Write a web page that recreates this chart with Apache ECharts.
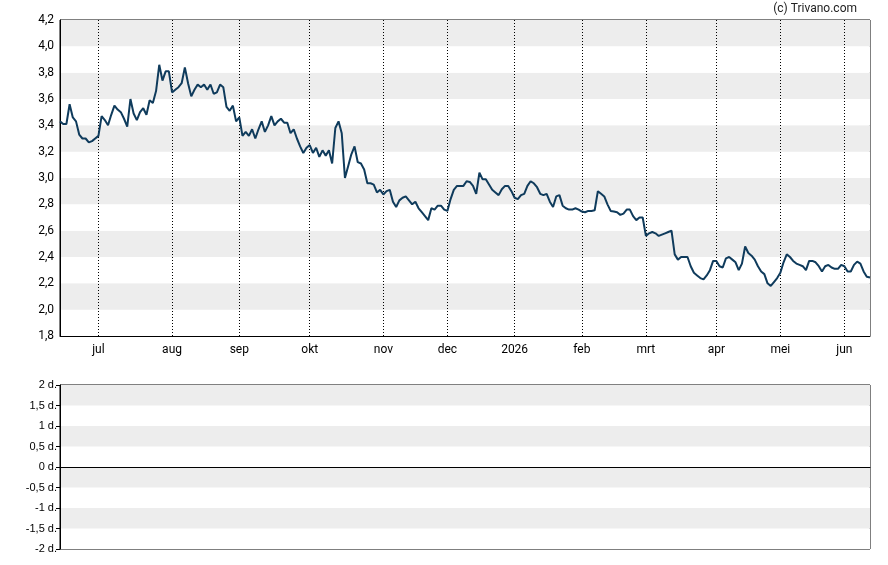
<!DOCTYPE html>
<html>
<head>
<meta charset="utf-8">
<script src="https://cdn.jsdelivr.net/npm/echarts@6/dist/echarts.min.js"></script>
<style>
  html, body { margin: 0; padding: 0; background: #fff; }
  #chart { width: 888px; height: 565px; }
</style>
</head>
<body>
<div id="chart"></div>
<script>
// trading days per month, first entry is the tail of june 2025
var monthNames = ['jun', 'jul', 'aug', 'sep', 'okt', 'nov', 'dec', '2026', 'feb', 'mrt', 'apr', 'mei', 'jun'];
var monthDays = [12, 23, 21, 22, 23, 20, 21, 21, 20, 22, 20, 20, 9];

var koers = [
  3.43, 3.41, 3.41, 3.56, 3.46, 3.43, 3.33, 3.30, 3.30, 3.27, 3.28, 3.30,
  3.32, 3.47, 3.44, 3.40, 3.48, 3.55, 3.52, 3.50, 3.45, 3.39, 3.60, 3.49, 3.44, 3.50, 3.53, 3.48, 3.59, 3.57, 3.66, 3.86, 3.74, 3.81, 3.81,
  3.65, 3.67, 3.69, 3.72, 3.84, 3.72, 3.62, 3.67, 3.71, 3.69, 3.71, 3.67, 3.71, 3.64, 3.65, 3.71, 3.69, 3.54, 3.51, 3.55, 3.43,
  3.46, 3.32, 3.35, 3.32, 3.37, 3.30, 3.37, 3.43, 3.35, 3.40, 3.47, 3.40, 3.43, 3.45, 3.42, 3.42, 3.34, 3.37, 3.30, 3.24, 3.19, 3.23,
  3.25, 3.19, 3.23, 3.16, 3.21, 3.17, 3.21, 3.11, 3.38, 3.43, 3.34, 3.00, 3.09, 3.18, 3.24, 3.12, 3.11, 3.065, 2.96, 2.96, 2.95, 2.89, 2.91,
  2.875, 2.90, 2.91, 2.82, 2.78, 2.83, 2.85, 2.86, 2.83, 2.80, 2.82, 2.77, 2.74, 2.71, 2.68, 2.77, 2.76, 2.79, 2.79, 2.76,
  2.75, 2.84, 2.91, 2.94, 2.94, 2.94, 2.975, 2.97, 2.94, 2.88, 3.04, 2.99, 2.99, 2.95, 2.91, 2.89, 2.87, 2.915, 2.94, 2.94, 2.90,
  2.85, 2.84, 2.87, 2.88, 2.94, 2.975, 2.96, 2.93, 2.88, 2.87, 2.88, 2.82, 2.78, 2.86, 2.87, 2.79, 2.77, 2.76, 2.76, 2.77, 2.76,
  2.745, 2.74, 2.75, 2.75, 2.755, 2.90, 2.88, 2.86, 2.80, 2.75, 2.745, 2.74, 2.72, 2.73, 2.76, 2.76, 2.71, 2.68, 2.70, 2.70,
  2.56, 2.58, 2.59, 2.58, 2.56, 2.57, 2.58, 2.59, 2.60, 2.42, 2.38, 2.40, 2.40, 2.40, 2.33, 2.28, 2.26, 2.24, 2.23, 2.26, 2.30, 2.37,
  2.37, 2.33, 2.32, 2.39, 2.40, 2.38, 2.36, 2.30, 2.35, 2.48, 2.43, 2.41, 2.38, 2.33, 2.29, 2.27, 2.20, 2.18, 2.21, 2.24,
  2.28, 2.36, 2.42, 2.40, 2.37, 2.35, 2.34, 2.33, 2.30, 2.37, 2.37, 2.36, 2.33, 2.29, 2.33, 2.34, 2.32, 2.31, 2.31, 2.34,
  2.33, 2.29, 2.29, 2.34, 2.365, 2.35, 2.29, 2.25, 2.245
];

var dagen = [];
for (var m = 0; m < monthNames.length; m++) {
  for (var d = 0; d < monthDays[m]; d++) {
    dagen.push(m + '|' + d + '|' + monthNames[m]);
  }
}
function isMonthStart(idx, val) {
  var p = String(val).split('|');
  return p[1] === '0' && p[0] !== '0';
}

var chart = echarts.init(document.getElementById('chart'), null, { renderer: 'canvas' });
chart.setOption({
  animation: false,
  backgroundColor: '#fff',
  graphic: [{
    type: 'text', right: 31, top: 3,
    style: { text: '(c) Trivano.com', font: '12px Roboto', fill: '#222' }
  }],
  grid: [
    { left: 60, right: 18, top: 20, height: 316, show: true, borderColor: '#000', borderWidth: 1, backgroundColor: 'transparent' },
    { left: 60, right: 18, top: 385, height: 164, show: true, borderColor: '#000', borderWidth: 1, backgroundColor: 'transparent' }
  ],
  xAxis: [{
    type: 'category', gridIndex: 0, data: dagen, boundaryGap: false,
    axisLine: { lineStyle: { color: '#000' } },
    axisTick: { show: false },
    axisLabel: {
      interval: isMonthStart, margin: 8, color: '#000', fontFamily: 'Roboto', fontSize: 12,
      formatter: function (v) { return v.split('|')[2]; }
    },
    splitLine: { show: true, interval: isMonthStart, lineStyle: { color: '#000', type: [1, 2], width: 1 } }
  }, {
    type: 'category', gridIndex: 1, data: dagen, boundaryGap: false,
    axisLine: { onZero: true, lineStyle: { color: '#000' } },
    axisTick: { show: false }, axisLabel: { show: false }, splitLine: { show: false }
  }],
  yAxis: [{
    type: 'value', gridIndex: 0, min: 1.8, max: 4.2, interval: 0.2,
    axisLine: { show: true, lineStyle: { color: '#000' } },
    axisTick: { show: false },
    axisLabel: {
      color: '#000', fontFamily: 'Roboto', fontSize: 12, margin: 6,
      formatter: function (v) { return v.toFixed(1).replace('.', ','); }
    },
    splitLine: { show: false },
    splitArea: { show: true, areaStyle: { color: ['#ffffff', '#ededed'] } }
  }, {
    type: 'value', gridIndex: 1, min: -2, max: 2, interval: 0.5,
    axisLine: { show: true, lineStyle: { color: '#000' } },
    axisTick: { show: true, length: 4, lineStyle: { color: '#000' } },
    axisLabel: {
      color: '#000', fontFamily: 'Liberation Sans', fontSize: 11, margin: 3,
      formatter: function (v) { return String(v).replace('.', ',') + ' d.'; }
    },
    splitLine: { show: false },
    splitArea: { show: true, areaStyle: { color: ['#ffffff', '#ededed'] } }
  }],
  series: [{
    type: 'line', xAxisIndex: 0, yAxisIndex: 0, data: koers,
    showSymbol: false, smooth: false,
    lineStyle: { color: '#0f3b5c', width: 2 }
  }, {
    type: 'line', xAxisIndex: 1, yAxisIndex: 1, data: [], showSymbol: false
  }]
});
</script>
</body>
</html>
